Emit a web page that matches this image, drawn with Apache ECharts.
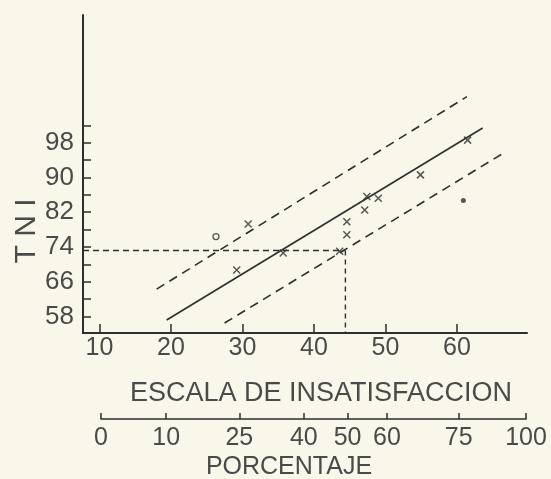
<!DOCTYPE html>
<html>
<head>
<meta charset="utf-8">
<script src="https://cdn.jsdelivr.net/npm/echarts@6/dist/echarts.min.js"></script>
<style>
  html, body { margin: 0; padding: 0; background: #f9f7ea; }
  #chart { width: 551px; height: 479px; }
</style>
</head>
<body>
<div id="chart"></div>
<script>
// Escala de insatisfacción vs TNI, with fitted line and confidence band
const escalaTicks = [10, 20, 30, 40, 50, 60];
const tniTicks = [58, 62, 66, 70, 74, 78, 82, 86, 90, 94, 98, 102];
const tniLabels = [58, 66, 74, 82, 90, 98];

// Percentage scale, placed under the escala values it corresponds to
const percLabels = ['0', '10', '25', '40', '50', '60', '75', '100'];
const percOnEscala = [10.2, 19.3, 29.5, 38.5, 44.6, 50.1, 60.1, 69.5];

// Observations
const crossPoints = [
  [29.2, 68.7], [30.8, 79.3], [35.7, 72.6], [43.6, 73.0], [44.6, 79.8],
  [44.6, 76.8], [47.4, 85.6], [47.1, 82.5], [49.0, 85.2], [54.9, 90.6],
  [61.5, 98.6]
];
const circlePoints = [[26.3, 76.4]];
const dotPoints = [[60.9, 84.7]];

// Regression line and its band
const fitLine = [[19.4, 57.2], [63.6, 101.4]];
const upperBand = [[18.0, 64.3], [61.4, 108.6]];
const lowerBand = [[27.5, 56.5], [66.3, 95.4]];

// Reading guide at TNI 74 / escala 44
const guideX = 44.4;
const guideY = 73.2;

const xMin = 7.7, xMax = 69.8;
const yMin = 54.2, yMax = 127.4;

const ink = '#2e2e2e';
const textInk = '#4a4a4a';
const font = '"Liberation Sans", Arial, sans-serif';

const chart = echarts.init(document.getElementById('chart'));

const crossPath = 'path://M0,0L10,10M10,0L0,10';

chart.setOption({
  backgroundColor: '#f9f7ea',
  animation: false,
  grid: [
    { left: 83, right: 24, top: 15, bottom: 146 },
    { left: 101, right: 25, top: 380, bottom: 60 }
  ],
  xAxis: [
    {
      type: 'value', gridIndex: 0, min: xMin, max: xMax,
      axisLine: { show: true, onZero: false, lineStyle: { color: ink, width: 2 } },
      axisTick: { show: true, inside: true, length: 9, customValues: escalaTicks,
                  lineStyle: { color: ink, width: 1.5 } },
      axisLabel: { customValues: escalaTicks, fontSize: 25, fontFamily: font,
                   color: textInk, margin: 3 },
      splitLine: { show: false }
    },
    {
      type: 'value', gridIndex: 1, min: percOnEscala[0], max: percOnEscala[percOnEscala.length - 1],
      axisLine: { show: true, onZero: false, lineStyle: { color: ink, width: 1.5 } },
      axisTick: { show: true, inside: true, length: 6, customValues: percOnEscala,
                  lineStyle: { color: ink, width: 1.5 } },
      axisLabel: {
        customValues: percOnEscala, fontSize: 25, fontFamily: font, color: textInk, margin: 7,
        formatter: function (v) {
          let best = 0;
          for (let i = 1; i < percOnEscala.length; i++) {
            if (Math.abs(percOnEscala[i] - v) < Math.abs(percOnEscala[best] - v)) best = i;
          }
          return percLabels[best];
        }
      },
      splitLine: { show: false }
    }
  ],
  yAxis: [
    {
      type: 'value', gridIndex: 0, min: yMin, max: yMax,
      axisLine: { show: true, onZero: false, lineStyle: { color: ink, width: 2 } },
      axisTick: { show: true, inside: true, length: 8, customValues: tniTicks,
                  lineStyle: { color: ink, width: 1.5 } },
      axisLabel: { customValues: tniLabels, fontSize: 26, fontFamily: font,
                   color: textInk, margin: 9 },
      splitLine: { show: false }
    },
    { type: 'value', gridIndex: 1, show: false, min: 0, max: 1 }
  ],
  graphic: [
    { type: 'text', x: 321, y: 394,
      style: { text: 'ESCALA DE INSATISFACCION', fill: textInk, font: '27px ' + font,
               textAlign: 'center', textVerticalAlign: 'middle' } },
    { type: 'text', x: 289, y: 467,
      style: { text: 'PORCENTAJE', fill: textInk, font: '25px ' + font,
               textAlign: 'center', textVerticalAlign: 'middle' } },
    { type: 'text', x: 27, y: 231, rotation: Math.PI / 2,
      style: { text: 'T N I', fill: textInk, font: '30px ' + font,
               textAlign: 'center', textVerticalAlign: 'middle' } }
  ],
  series: [
    { type: 'line', xAxisIndex: 0, yAxisIndex: 0, data: fitLine, symbol: 'none', silent: true,
      lineStyle: { color: ink, width: 1.6 } },
    { type: 'line', data: upperBand, symbol: 'none', silent: true,
      lineStyle: { color: ink, width: 1.6, type: [9, 6] } },
    { type: 'line', data: lowerBand, symbol: 'none', silent: true,
      lineStyle: { color: ink, width: 1.6, type: [9, 6] } },
    { type: 'line', data: [[xMin, guideY], [guideX, guideY]], symbol: 'none', silent: true,
      lineStyle: { color: ink, width: 1.4, type: [6, 4] } },
    { type: 'line', data: [[guideX, guideY], [guideX, yMin]], symbol: 'none', silent: true,
      lineStyle: { color: ink, width: 1.4, type: [5, 4] } },
    { type: 'scatter', data: crossPoints, symbol: crossPath, symbolSize: 7, silent: true,
      itemStyle: { color: 'none', borderColor: ink, borderWidth: 1.5 } },
    { type: 'scatter', data: circlePoints, symbol: 'circle', symbolSize: 6, silent: true,
      itemStyle: { color: '#f9f7ea', borderColor: ink, borderWidth: 1.3 } },
    { type: 'scatter', data: dotPoints, symbol: 'circle', symbolSize: 5, silent: true,
      itemStyle: { color: ink } }
  ]
});
</script>
</body>
</html>
